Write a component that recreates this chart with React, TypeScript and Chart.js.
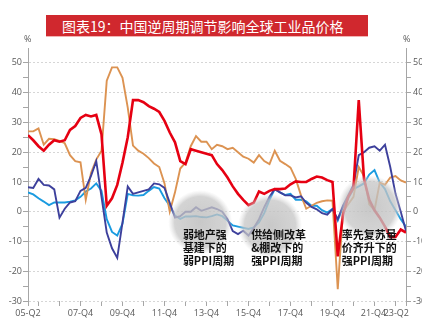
import React, { useEffect, useRef } from "react";
import { Chart, registerables } from "chart.js";
Chart.register(...registerables);

// quarter index 0 = 05-Q2 ... 72 = 23-Q2
const xTickQuarters = [0, 2, 6, 10, 14, 18, 22, 26, 30, 34, 38, 42, 46, 50, 54, 58, 62, 66, 70, 72];
const xLabelQuarters = [0, 10, 18, 26, 34, 42, 50, 58, 66, 72];
const xLabels = ["05-Q2", "07-Q4", "09-Q4", "11-Q4", "13-Q4", "15-Q4", "17-Q4", "19-Q4", "21-Q4", "23-Q2"];
const yTicks = [-30, -25, -20, -15, -10, -5, 0, 5, 10, 15, 20, 25, 30, 35, 40, 45, 50];

const redSeries = [
  25.7, 24, 22, 20.5, 22.5, 24, 23.5, 24, 27.5, 28.8,
  31.5, 32.5, 32, 32.5, 26, 2, 4.5, 9, 16.5, 25,
  37.5, 37.5, 36.8, 35.5, 34.6, 33.5, 30.5, 26.6, 23.3, 17,
  16, 21, 20.5, 20, 19.5, 19, 16, 14, 11.5, 8.5,
  6, 4, 2.2, 3, 6.8, 6, 7, 7.6, 7.6, 7.8,
  9.2, 10.2, 10, 10, 11, 11.8, 11.5, 10.6, 10, -15,
  -1, 5, 8, 37.5, 11, 4, 0.5, -2, -5, -8.5,
  -8.5, -6, -7,
];
const orangeSeries = [
  27, 27, 28, 22.5, 24.5, 24.4, 23.8, 23, 19, 17,
  16.6, 4, 13, 17.5, 20.5, 44, 48.5, 48.5, 45, 35,
  22.2, 20.5, 19.5, 18, 16.2, 15, 9.5, 0, 6.5, 14.5,
  16.5, 22, 25.4, 23.5, 23.5, 21, 22.5, 22, 21, 21.5,
  20, 18.5, 17.8, 16.5, 19, 17, 16, 20.5, 17.1, 16,
  14.8, 11, 5.5, 1, 2, 3, 3.5, 3.8, 3.7, -26,
  0, 2.5, 5, 15, 12, 2.5, 0.5, 9.8, 9, 11.5,
  12, 10.5, 9.8,
];
const darkBlueSeries = [
  8.2, 8, 11, 9, 8.8, 7.5, -2, 1, 3.1, 3.5,
  7, 8, 12, 17, 5, -7, -12.3, -15.5, -3.6, 8.5,
  6, 6.5, 7, 7.5, 9.5, 9.2, 8, 3, -2, -1.5,
  0, 0, 1.5, 0.3, 0.9, 1.5, 0.9, 0, -2.5, -6.5,
  -7.5, -6.4, -8, -5.5, -2.5, 1.5, 5, 7.6, 6.5, 5.5,
  5.5, 4.8, 5.2, 3, 1.6, 0.8, -0.5, -1, 0.9, -2.5,
  2, 5.5, 9, 19, 20, 21.5, 22, 20.5, 22.5, 15,
  6, 0, -6.5,
];
const lightBlueSeries = [
  6.5, 5.8, 4.5, 3.4, 2.2, 3.1, 3.1, 3.1, 3.4, 3.8,
  5, 6.8, 7.8, 9.5, 7, -2.5, -6.8, -8, -4, 6,
  5.5, 5.4, 5.6, 7, 8.3, 7.8, 4.5, 2, -1.3, -2.4,
  -1.6, -1.6, -1.5, -1.8, -1.9, -1.5, -0.9, -1.5, -3, -4.6,
  -5, -5.4, -5.8, -5.3, -3.6, -0.5, 4, 7.6, 6.5, 5.6,
  6, 4, 4, 3.5, 2, 2, 0.5, -0.3, 0.9, -3,
  1.5, 4.5, 7.6, 8.5, 9.5, 12.5, 14, 9.8, 7.6, 3.5,
  0.5, -2.5, -5,
];

// annotation circles (data coords) and notes
const circleCenters = [
  { x: 32.8, y: -3.5 },
  { x: 46.1, y: -4.7 },
  { x: 65.1, y: 1.5 },
];
const noteAnchors = [
  { x: 29.5, y: -7.9 },
  { x: 42.5, y: -7.9 },
  { x: 59.75, y: -7.9 },
];
const noteLines = [
  ["弱地产强", "基建下的", "弱PPI周期"],
  ["供给侧改革", "&棚改下的", "强PPI周期"],
  ["率先复苏量", "价齐升下的", "强PPI周期"],
];

const toXY = (arr: number[]) => arr.map((v, i) => ({ x: i, y: v }));

const AXIS_FONT = '"Open Sans", "DejaVu Sans", sans-serif';

const overlayPlugin = {
  id: "overlay",
  afterDatasetsDraw(chart: any) {
    const { ctx, scales } = chart;
    const xs = scales.x;
    const ys = scales.y;
    ctx.save();
    circleCenters.forEach((c) => {
      const cx = xs.getPixelForValue(c.x);
      const cy = ys.getPixelForValue(c.y);
      const r = 32;
      const g = ctx.createRadialGradient(cx, cy, 0, cx, cy, r);
      g.addColorStop(0, "rgba(188,188,188,0.82)");
      g.addColorStop(0.8, "rgba(198,198,198,0.76)");
      g.addColorStop(1, "rgba(215,215,215,0)");
      ctx.fillStyle = g;
      ctx.beginPath();
      ctx.arc(cx, cy, r, 0, Math.PI * 2);
      ctx.fill();
    });
    ctx.fillStyle = "#111";
    ctx.font = 'bold 11px "Noto Sans CJK SC", sans-serif';
    ctx.textBaseline = "middle";
    ctx.textAlign = "left";
    noteAnchors.forEach((a, i) => {
      const px = xs.getPixelForValue(a.x);
      const py = ys.getPixelForValue(a.y);
      noteLines[i].forEach((t, j) => ctx.fillText(t, px, py + j * 13));
    });
    ctx.restore();
  },
  afterDraw(chart: any) {
    const { ctx, scales } = chart;
    const xs = scales.x;
    ctx.save();
    ctx.fillStyle = "#595959";
    ctx.font = "9px " + AXIS_FONT;
    ctx.textBaseline = "middle";
    xLabelQuarters.forEach((q, i) => {
      const px = xs.getPixelForValue(q);
      const last = i === xLabelQuarters.length - 1;
      ctx.textAlign = last ? "right" : "center";
      ctx.fillText(xLabels[i], last ? px + 3 : px - (i === xLabelQuarters.length - 2 ? 1 : 0), 313);
    });
    ctx.restore();
  },
};

export default function App() {
  const ref = useRef<HTMLCanvasElement>(null);
  useEffect(() => {
    const yAxisCommon = (position: "left" | "right") => ({
      type: "linear" as const,
      position,
      min: -30,
      max: 55,
      afterBuildTicks: (scale: any) => {
        scale.ticks = yTicks.map((v) => ({ value: v }));
      },
      afterFit: (scale: any) => {
        scale.width = position === "left" ? 28 : 16;
      },
      ticks: {
        font: { size: 9, family: AXIS_FONT },
        color: "#595959",
        padding: position === "left" ? 1 : 2,
        callback: (v: any) => (Number(v) % 10 === 0 ? String(v) : ""),
      },
      grid: {
        drawOnChartArea: position === "left",
        color: (ctx: any) =>
          ctx.tick && ctx.tick.value % 10 === 0 ? "#d6d6d6" : "rgba(0,0,0,0)",
        tickColor: "#a6a6a6",
        tickLength: 5,
        tickBorderDash: [],
      },
      border: { display: true, color: "#a6a6a6", width: 1, dash: [2, 2] },
    });

    const chart = new Chart(ref.current!, {
      type: "line",
      data: {
        datasets: [
          { label: "红", data: toXY(redSeries), borderColor: "#e60012", borderWidth: 2.6 },
          { label: "深蓝", data: toXY(darkBlueSeries), borderColor: "#3d409c", borderWidth: 1.9 },
          { label: "橙", data: toXY(orangeSeries), borderColor: "#dc9352", borderWidth: 1.9 },
          { label: "浅蓝", data: toXY(lightBlueSeries), borderColor: "#1a9be0", borderWidth: 1.9 },
        ].map((d) => ({ ...d, pointRadius: 0, tension: 0, fill: false })),
      },
      options: {
        animation: false,
        responsive: false,
        devicePixelRatio: 1,
        layout: { padding: { top: 48, left: 0, right: 0, bottom: 0 } },
        plugins: { legend: { display: false }, tooltip: { enabled: false }, title: { display: false } },
        scales: {
          x: {
            type: "linear",
            min: 0,
            max: 72,
            afterBuildTicks: (scale: any) => {
              scale.ticks = xTickQuarters.map((v) => ({ value: v }));
            },
            afterFit: (scale: any) => {
              scale.height = 26;
            },
            ticks: { callback: () => "", font: { size: 9 } },
            grid: { drawOnChartArea: false, tickColor: "#a6a6a6", tickLength: 5 },
            border: { display: false },
          },
          y: yAxisCommon("left"),
          y2: yAxisCommon("right"),
        },
      } as any,
      plugins: [overlayPlugin],
    });
    return () => chart.destroy();
  }, []);

  return (
    <div style={{ position: "fixed", left: 0, top: 0, width: 422, height: 327, background: "#fff", overflow: "hidden" }}>
      <canvas ref={ref} width={422} height={327} style={{ position: "absolute", left: 0, top: 0, width: 422, height: 327 }} />
      <div
        style={{
          position: "absolute",
          left: 46,
          top: 15,
          width: 322,
          height: 22,
          background: "#d0282e",
          borderBottom: "1px solid #f2b3b3",
          color: "#fff",
          fontFamily: '"Noto Sans CJK SC", sans-serif',
          fontSize: 14,
          lineHeight: "22px",
          paddingLeft: 16,
          boxSizing: "border-box",
          whiteSpace: "nowrap",
        }}
      >
        图表19：中国逆周期调节影响全球工业品价格
      </div>
      <div style={{ position: "absolute", left: 24, top: 32, fontSize: 9, color: "#595959", fontFamily: AXIS_FONT }}>%</div>
      <div style={{ position: "absolute", left: 403, top: 32, fontSize: 9, color: "#595959", fontFamily: AXIS_FONT }}>%</div>
    </div>
  );
}
